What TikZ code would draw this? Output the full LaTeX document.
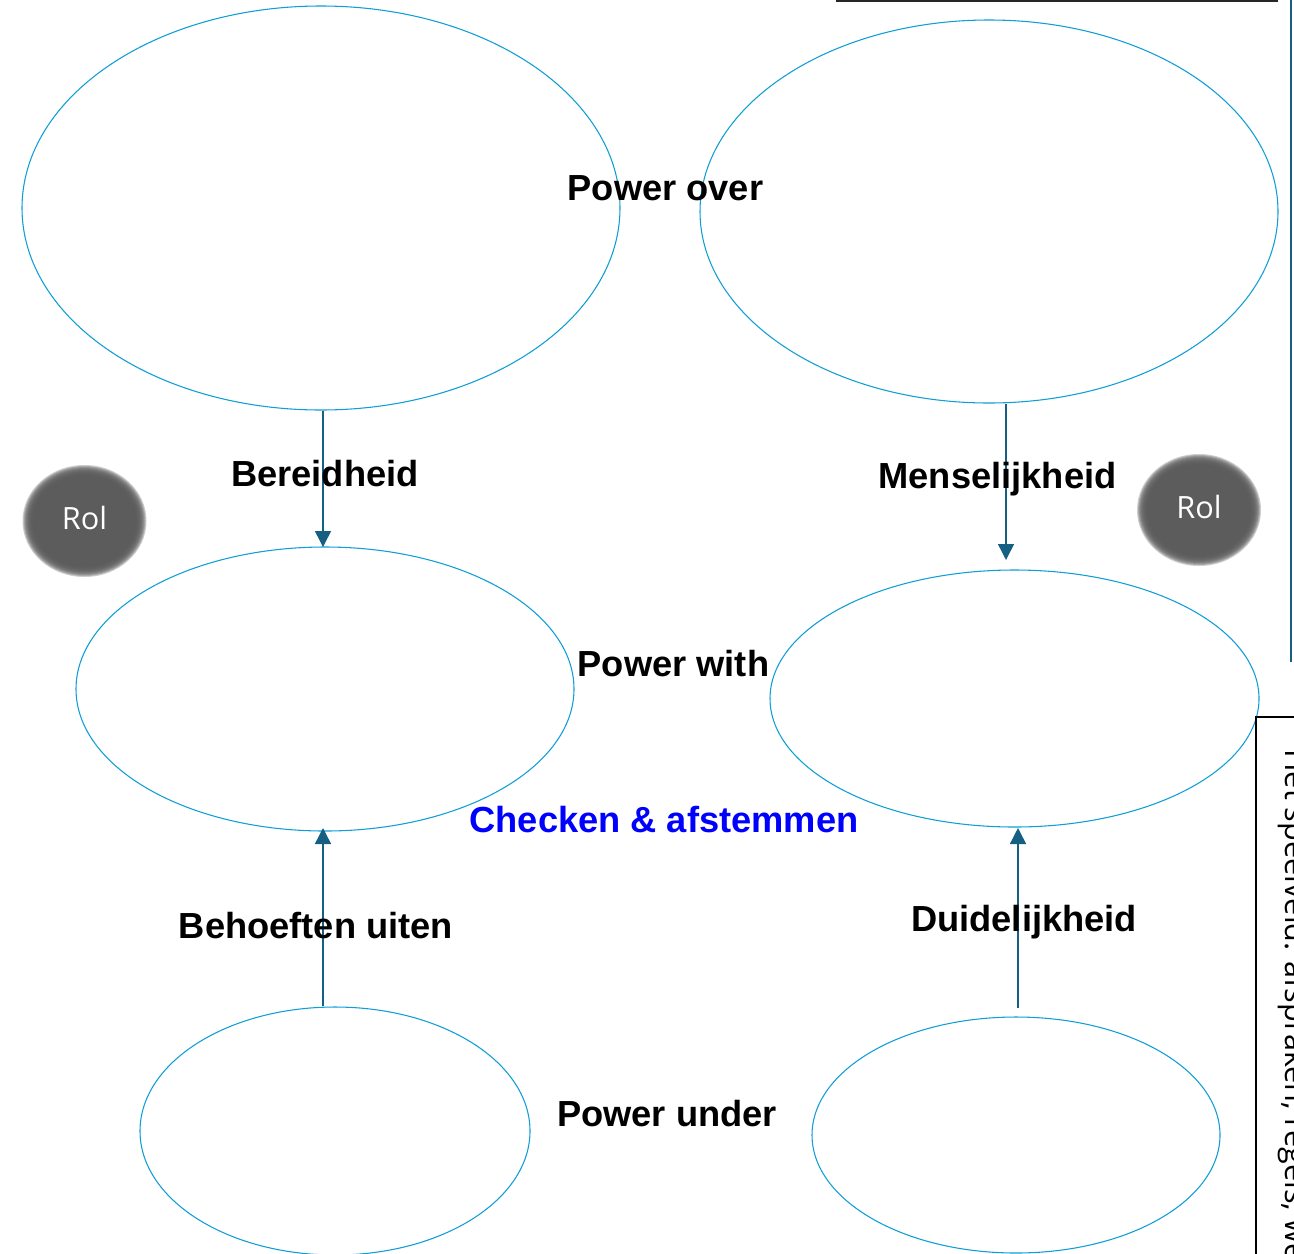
\documentclass[tikz,border=0pt]{standalone}
\usepackage{fontspec}
\setmainfont{Liberation Sans}
\newfontfamily\aptos{Open Sans}
\usepackage{tikz}
\usetikzlibrary{arrows.meta,shapes.geometric}

\definecolor{ringblue}{HTML}{0F9ED5}
\definecolor{arrowblue}{HTML}{156082}
\definecolor{rolgray}{HTML}{595959}

\begin{document}
\begin{tikzpicture}[x=0.75pt,y=-0.75pt,>={Triangle[length=12pt,width=12pt]}]

  \tikzstyle{ring}=[ellipse,draw=ringblue,line width=0.8pt,inner sep=0pt]
  \tikzstyle{power}=[font=\bfseries\fontsize{27.2}{32}\selectfont,anchor=base,inner sep=0pt]
  \tikzstyle{pijl}=[->,arrowblue,line width=1.1pt]
  \tikzstyle{rol}=[text=white,font=\aptos\fontsize{23}{27}\selectfont,anchor=base,inner sep=0pt]

  \useasboundingbox (0,0) rectangle (1294,1253);
  \clip (0,0) rectangle (1294,1253);

  % de ellipsen
  \node[ring,minimum width=448.5pt,minimum height=303pt]    (OL) at (321,208)      {};
  \node[ring,minimum width=433.5pt,minimum height=287.25pt] (OR) at (989,211.5)    {};
  \node[ring,minimum width=373.5pt,minimum height=213pt]    (WL) at (325,689)      {};
  \node[ring,minimum width=366.75pt,minimum height=192.75pt](WR) at (1014.5,698.5) {};
  \node[ring,minimum width=292.5pt,minimum height=186pt]    (UL) at (335,1131)     {};
  \node[ring,minimum width=306pt,minimum height=177pt]      (UR) at (1016,1135)    {};

  % pijlen
  \coordinate (b1) at (323,547);
  \coordinate (m1) at (1006,560);
  \coordinate (b2) at (323,828);
  \coordinate (d1) at (1018,1008);
  \coordinate (d2) at (1018,828);
  \draw[pijl] (OL.south -| b1) -- (b1);
  \draw[pijl] (OR.south -| m1) -- (m1);
  \draw[pijl] (UL.north -| b2) -- (b2);
  \draw[pijl] (d1) -- (d2);

  % teksten
  \node[power] (over)   at (665.5,200)  {Power over};
  \node[power] (bereid) at (325,486)    {Bereidheid};
  \node[power] (mens)   at (997.5,488)  {Menselijkheid};
  \node[power] (with)   at (673.5,676)  {Power with};
  \node[power,text=blue] (check) at (664,832) {Checken \& afstemmen};
  \node[power] (behoef) at (316,938)    {Behoeften uiten};
  \node[power] (duidel) at (1024,931)   {Duidelijkheid};
  \node[power] (under)  at (667,1126)   {Power under};

  % rollen
  \foreach \x/\y in {84.5/521,1199/510}
    \foreach \i in {1,...,11}
      \fill[rolgray,opacity=0.3] (\x,\y) ellipse [x radius={(51+\i)*0.75pt}, y radius={(45+\i)*0.75pt}];
  \node[rol] (rolL) at (84.5,529) {Rol};
  \node[rol] (rolR) at (1199,518) {Rol};

  % rand rechts
  \draw[black!85,line width=1.5pt] (836,1) -- (1278,1);
  \draw[arrowblue,line width=1.6pt] (1291,0) -- (1291,662);
  \draw[black,line width=0.9pt] (1256,1260) -- (1256,717) -- (1300,717);
  \node[rotate=-90,anchor=base west,inner sep=0pt,font=\aptos\fontsize{23}{27}\selectfont] (veld) at (1285,749) {Het speelveld: afspraken, regels, we};

\end{tikzpicture}
\end{document}
